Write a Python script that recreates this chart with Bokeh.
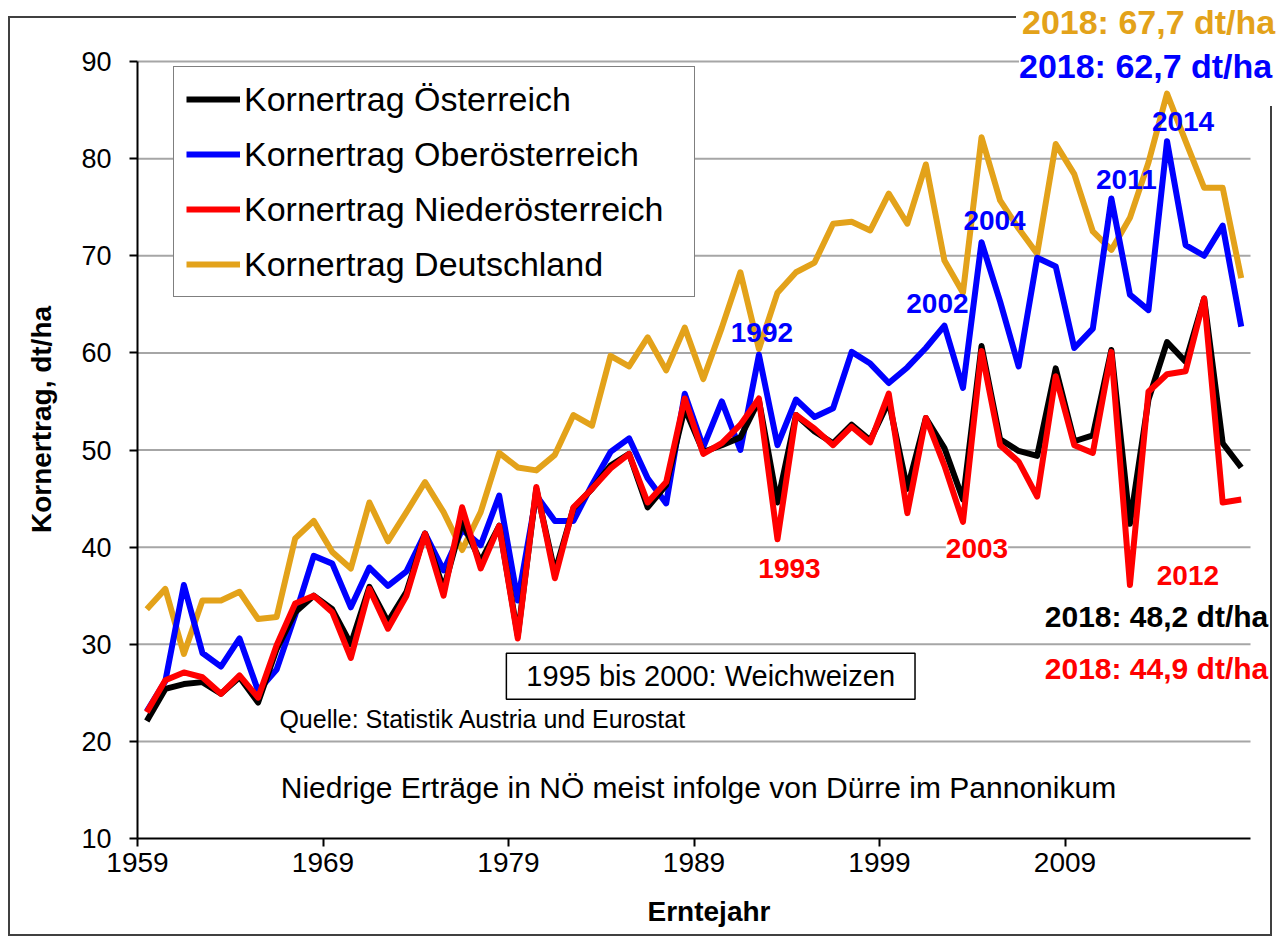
from bokeh.plotting import figure
from bokeh.models import Label, Legend, LegendItem, FixedTicker, InlineStyleSheet
from bokeh.embed import file_html
from bokeh.resources import INLINE

# ---------------- data ----------------
years = list(range(1959, 2019))

oesterreich = [
    22.1, 25.4, 25.9, 26.1, 24.9, 26.6, 24.0, 29.5, 33.3, 35.0,
    33.6, 30.0, 35.9, 32.3, 35.4, 41.4, 35.7, 42.6, 38.5, 42.2,
    30.9, 46.0, 37.4, 44.0, 46.0, 48.4, 49.6, 44.1, 46.4, 54.3,
    49.8, 50.5, 51.3, 55.1, 44.6, 53.6, 51.9, 50.7, 52.6, 51.0,
    55.0, 46.0, 53.3, 50.2, 44.9, 60.7, 51.1, 49.9, 49.4, 58.4,
    50.9, 51.5, 60.3, 42.4, 55.2, 61.1, 59.1, 65.6, 50.7, 48.2,
]
oberoesterreich = [
    23.1, 26.2, 36.1, 29.1, 27.7, 30.6, 25.2, 27.4, 33.0, 39.1,
    38.3, 33.8, 37.9, 36.0, 37.5, 41.4, 37.6, 41.8, 40.2, 45.3,
    34.5, 45.3, 42.7, 42.7, 46.4, 49.8, 51.2, 47.1, 44.5, 55.8,
    50.3, 55.0, 50.0, 59.8, 50.5, 55.2, 53.4, 54.3, 60.1, 58.9,
    56.9, 58.5, 60.5, 62.8, 56.4, 71.4, 65.3, 58.6, 69.8, 68.9,
    60.5, 62.5, 75.9, 66.0, 64.4, 81.8, 71.1, 70.0, 73.1, 62.7,
]
niederoesterreich = [
    23.0, 26.3, 27.1, 26.6, 24.9, 26.8, 24.5, 29.9, 34.2, 35.0,
    33.3, 28.6, 35.7, 31.6, 35.0, 41.4, 35.0, 44.1, 37.8, 42.2,
    30.6, 46.2, 36.8, 44.1, 46.0, 48.1, 49.6, 44.6, 46.7, 55.3,
    49.6, 50.7, 52.6, 55.3, 40.8, 53.6, 52.2, 50.5, 52.4, 50.8,
    55.8, 43.5, 53.3, 48.4, 42.6, 60.2, 50.5, 48.8, 45.2, 57.6,
    50.5, 49.7, 60.1, 36.1, 56.0, 57.8, 58.1, 65.6, 44.6, 44.9,
]
deutschland = [
    33.6, 35.7, 29.0, 34.5, 34.5, 35.4, 32.6, 32.8, 40.9, 42.7,
    39.5, 37.8, 44.6, 40.6, 43.6, 46.7, 43.6, 39.7, 43.6, 49.7,
    48.2, 47.9, 49.5, 53.6, 52.5, 59.7, 58.6, 61.6, 58.2, 62.6,
    57.3, 62.6, 68.3, 60.4, 66.2, 68.3, 69.3, 73.3, 73.5, 72.6,
    76.4, 73.3, 79.4, 69.5, 66.2, 82.2, 75.7, 72.8, 70.2, 81.5,
    78.4, 72.5, 70.6, 73.9, 79.6, 86.7, 81.8, 77.0, 77.0, 67.7,
]

series_labels = [
    "Kornertrag Österreich",
    "Kornertrag Oberösterreich",
    "Kornertrag Niederösterreich",
    "Kornertrag Deutschland",
]
x_tick_years = [1959, 1969, 1979, 1989, 1999, 2009]
y_ticks = [10, 20, 30, 40, 50, 60, 70, 80, 90]

FONT = "Liberation Sans"
GOLD = "#E3A21A"
BLUE = "#0000FF"
RED = "#FF0000"
BLACK = "#000000"

# ---------------- layout (pixels) ----------------
W, H = 1280, 938
PLOT_L, PLOT_R, PLOT_T, PLOT_B = 137, 1250, 61, 838
X_LO, X_HI = years[0] - 0.5, years[-1] + 0.5
Y_LO, Y_HI = y_ticks[0], y_ticks[-1]
# the frame is stretched to the right/top edges so that the outside labels show
x_end = X_HI + (W - PLOT_R) * (X_HI - X_LO) / (PLOT_R - PLOT_L)
y_end = Y_HI + PLOT_T * (Y_HI - Y_LO) / (PLOT_B - PLOT_T)

p = figure(
    width=W, height=H,
    x_range=(X_LO, x_end), y_range=(Y_LO, y_end),
    output_backend="svg", toolbar_location=None,
    min_border_left=PLOT_L, min_border_right=0,
    min_border_top=0, min_border_bottom=H - PLOT_B,
)
p.outline_line_color = None
p.background_fill_color = "white"
p.border_fill_color = "white"
# outer chart-area border, drawn over the canvas; it leaves gaps where the
# top-right value labels sit on it
p.stylesheets = [InlineStyleSheet(css="""
:host::after {
  content: ""; position: absolute; left: 8px; top: 16px; right: 8px; bottom: 2px;
  pointer-events: none; z-index: 20;
  background:
    linear-gradient(#404040, #404040) left top / 2px 100% no-repeat,
    linear-gradient(#404040, #404040) left bottom / 100% 2px no-repeat,
    linear-gradient(#404040, #404040) right bottom / 2px calc(100% - 90px) no-repeat,
    linear-gradient(#404040, #404040) left top / 1008px 2px no-repeat;
}
""")]

# axes
xt = [y - 0.5 for y in x_tick_years]
p.xaxis.ticker = FixedTicker(ticks=xt)
p.xaxis.major_label_overrides = {t: str(y) for t, y in zip(xt, x_tick_years)}
p.yaxis.ticker = FixedTicker(ticks=y_ticks)
p.xaxis.bounds = (X_LO, X_HI)
p.yaxis.bounds = (Y_LO, Y_HI)
for ax in (p.xaxis[0], p.yaxis[0]):
    ax.axis_line_color = BLACK
    ax.axis_line_width = 2
    ax.major_tick_line_color = BLACK
    ax.major_tick_line_width = 2
    ax.major_tick_out = 8
    ax.major_tick_in = 0
    ax.minor_tick_line_color = None
    ax.major_label_text_font = FONT
    ax.major_label_text_color = BLACK
    ax.axis_label_text_font = FONT
    ax.axis_label_text_font_style = "bold"
    ax.axis_label_text_font_size = "28px"
    ax.axis_label_text_color = BLACK

p.xaxis.major_label_text_font_size = "28px"
p.xaxis.major_label_standoff = 6
p.xaxis.axis_label = "Erntejahr"
p.xaxis.axis_label_standoff = 21

p.yaxis.major_label_text_font_size = "27px"
p.yaxis.major_label_standoff = 18
p.yaxis.axis_label = "Kornertrag, dt/ha"
p.yaxis.axis_label_standoff = 21

p.xgrid.visible = False
p.ygrid.visible = False
grid_y = y_ticks[1:]
p.segment(x0=[X_LO] * len(grid_y), y0=grid_y, x1=[X_HI] * len(grid_y), y1=grid_y,
          line_color="#A6A6A6", line_width=2)

# ---------------- lines ----------------
lw = 6
r_de = p.line(years, deutschland, line_color=GOLD, line_width=lw, line_join="round")
r_ob = p.line(years, oberoesterreich, line_color=BLUE, line_width=lw, line_join="round")
r_at = p.line(years, oesterreich, line_color=BLACK, line_width=lw, line_join="round")
r_nd = p.line(years, niederoesterreich, line_color=RED, line_width=lw, line_join="round")

legend = Legend(
    items=[
        LegendItem(label=series_labels[0], renderers=[r_at]),
        LegendItem(label=series_labels[1], renderers=[r_ob]),
        LegendItem(label=series_labels[2], renderers=[r_nd]),
        LegendItem(label=series_labels[3], renderers=[r_de]),
    ],
    location=(36, 541),
    label_text_font=FONT,
    label_text_font_size="34px",
    label_text_color=BLACK,
    glyph_width=54, glyph_height=40,
    label_height=40, label_width=438,
    label_standoff=4, spacing=15, padding=12, margin=0,
    border_line_color=BLACK, border_line_width=1.5,
    background_fill_color="white", background_fill_alpha=1.0,
)
p.add_layout(legend)

# ---------------- year annotations ----------------
def idx(y):
    return years.index(y)

year_notes = [
    (1992, oberoesterreich, BLUE, 3, 22, None),
    (1993, niederoesterreich, RED, 12, -29, None),
    (2002, oberoesterreich, BLUE, -7, 22, None),
    (2003, niederoesterreich, RED, 14, -27, "white"),
    (2004, oberoesterreich, BLUE, 13, 22, None),
    (2011, oberoesterreich, BLUE, 15, 19, None),
    (2014, oberoesterreich, BLUE, 16, 20, None),
    (2012, niederoesterreich, RED, 58, 10, None),
]
for yr, ser, col, dx, dy, bg in year_notes:
    p.add_layout(Label(
        x=yr, y=ser[idx(yr)], x_offset=dx, y_offset=dy,
        text=str(yr), text_color=col, text_font=FONT,
        text_font_style="bold", text_font_size="28px",
        text_align="center", text_baseline="middle",
        background_fill_color=bg,
    ))

# ---------------- 2018 value labels ----------------
last = years[-1]
value_notes = [
    (deutschland, GOLD, 34, 94.1, "34px"),
    (oberoesterreich, BLUE, 31, 89.5, "34px"),
    (oesterreich, BLACK, 27, 32.9, "30px"),
    (niederoesterreich, RED, 27, 27.5, "30px"),
]
for ser, col, dx, ypos, fs in value_notes:
    txt = "%d: %s dt/ha" % (last, ("%.1f" % ser[-1]).replace(".", ","))
    p.add_layout(Label(
        x=last, y=ypos, x_offset=dx,
        text=txt, text_color=col, text_font=FONT,
        text_font_style="bold", text_font_size=fs,
        text_align="right", text_baseline="middle",
        background_fill_color="white",
    ))

# ---------------- text notes ----------------
p.add_layout(Label(
    x=1989.4, y=26.7, text="1995 bis 2000: Weichweizen",
    text_font=FONT, text_font_size="29px", text_color=BLACK,
    text_align="center", text_baseline="middle",
    border_line_color=BLACK, border_line_width=1.5,
    background_fill_color="white", padding=(20, 7),
))
p.add_layout(Label(
    x=1966.15, y=22.35, text="Quelle: Statistik Austria und Eurostat",
    text_font=FONT, text_font_size="25px", text_color=BLACK,
    text_align="left", text_baseline="middle",
))
p.add_layout(Label(
    x=1988.74, y=15.25,
    text="Niedrige Erträge in NÖ meist infolge von Dürre im Pannonikum",
    text_font=FONT, text_font_size="30px", text_color=BLACK,
    text_align="center", text_baseline="middle",
))

open("out.html", "w").write(file_html(p, INLINE))
